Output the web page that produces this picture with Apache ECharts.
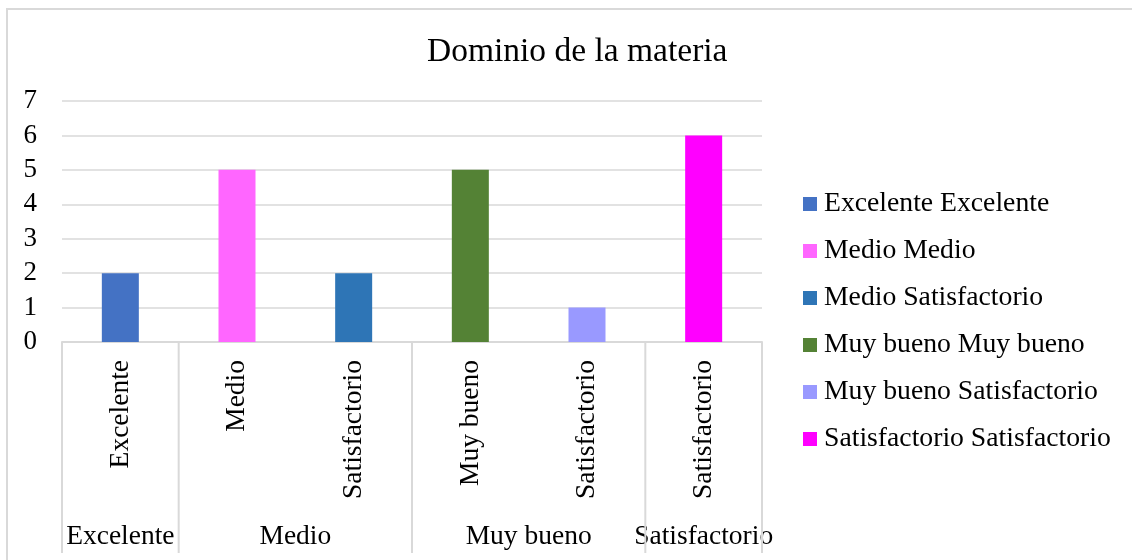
<!DOCTYPE html>
<html>
<head>
<meta charset="utf-8">
<script src="https://cdn.jsdelivr.net/npm/echarts@6/dist/echarts.min.js"></script>
<style>
  html, body { margin: 0; padding: 0; background: #fff; }
  #main { width: 1132px; height: 560px; }
</style>
</head>
<body>
<div id="main"></div>
<script>
var titleText = 'Dominio de la materia';
var seriesNames = ['Excelente Excelente', 'Medio Medio', 'Medio Satisfactorio', 'Muy bueno Muy bueno', 'Muy bueno Satisfactorio', 'Satisfactorio Satisfactorio'];
var innerLabels = ['Excelente', 'Medio', 'Satisfactorio', 'Muy bueno', 'Satisfactorio', 'Satisfactorio'];
var groupLabels = ['Excelente', 'Medio', 'Muy bueno', 'Satisfactorio'];
var groupSizes = [1, 2, 2, 1];
var values = [2, 5, 2, 5, 1, 6];
var colors = ['#4472C4', '#FF66FF', '#2E75B6', '#548235', '#9999FF', '#FF00FF'];
var yMin = 0, yMax = 7, yStep = 1;

var font = "'Liberation Serif', 'Times New Roman', serif";
var gridColor = '#d9d9d9';

var myChart = echarts.init(document.getElementById('main'));

var series = seriesNames.map(function (name, i) {
    return {
        name: name,
        type: 'bar',
        stack: 'total',
        barWidth: 37,
        itemStyle: { color: colors[i] },
        data: values.map(function (v, j) { return j === i ? v : '-'; })
    };
});

myChart.setOption({
    animation: false,
    title: {
        text: titleText,
        left: 422,
        top: 30,
        textStyle: { fontFamily: font, fontSize: 33.5, fontWeight: 'normal', color: '#000' }
    },
    legend: {
        orient: 'vertical',
        left: 798,
        top: 185,
        itemWidth: 14,
        itemHeight: 14,
        itemGap: 19,
        icon: 'rect',
        data: seriesNames,
        textStyle: { fontFamily: font, fontSize: 27.7, color: '#000', lineHeight: 27, padding: [0, 0, 0, 2] }
    },
    grid: { left: 62, right: 370, top: 101, bottom: 218 },
    xAxis: {
        type: 'category',
        data: seriesNames,
        axisLine: { lineStyle: { color: gridColor, width: 2 } },
        axisTick: { show: false },
        axisLabel: {
            interval: 0,
            rotate: 90,
            margin: 18,
            fontFamily: font,
            fontSize: 27.5,
            color: '#000',
            formatter: function (v, i) { return innerLabels[i]; }
        }
    },
    yAxis: {
        type: 'value',
        min: yMin,
        max: yMax,
        interval: yStep,
        axisLine: { show: false },
        axisTick: { show: false },
        splitLine: { lineStyle: { color: gridColor, width: 1.5 } },
        axisLabel: { margin: 25, fontFamily: font, fontSize: 27, color: '#000' }
    },
    series: series
});

// multi-level category axis: group separators and outer labels
var c0 = myChart.convertToPixel({ xAxisIndex: 0 }, 0);
var c1 = myChart.convertToPixel({ xAxisIndex: 0 }, 1);
var half = (c1 - c0) / 2;
var yBase = myChart.convertToPixel({ yAxisIndex: 0 }, 0);
var graphics = [{
    type: 'rect',
    shape: { x: 7, y: 9, width: 1300, height: 700 },
    style: { fill: null, stroke: gridColor, lineWidth: 2 },
    silent: true
}];
var start = 0;
var edges = [c0 - half];
groupLabels.forEach(function (g, k) {
    var end = start + groupSizes[k] - 1;
    var xs = myChart.convertToPixel({ xAxisIndex: 0 }, start);
    var xe = myChart.convertToPixel({ xAxisIndex: 0 }, end);
    edges.push(xe + half);
    graphics.push({
        type: 'text',
        x: (xs + xe) / 2,
        y: 537,
        style: { text: g, fontFamily: font, fontSize: 27.5, fill: '#000', align: 'center', verticalAlign: 'middle' }
    });
    start = end + 1;
});
edges.forEach(function (x) {
    graphics.push({
        type: 'line',
        shape: { x1: x, y1: yBase, x2: x, y2: 553 },
        style: { stroke: gridColor, lineWidth: 2 },
        silent: true
    });
});
myChart.setOption({ graphic: graphics });
</script>
</body>
</html>
